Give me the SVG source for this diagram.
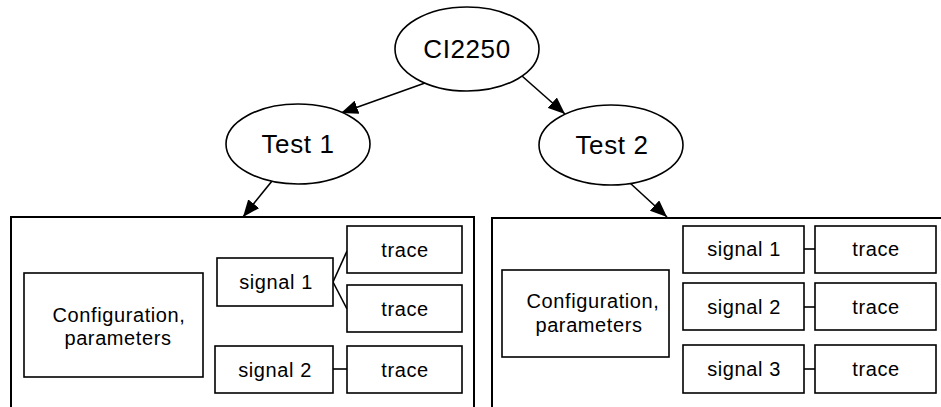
<svg xmlns="http://www.w3.org/2000/svg" width="941" height="407" viewBox="0 0 941 407">
  <style>
    .node { fill: #fff; stroke: #000; stroke-width: 1.6; }
    .frame { fill: #fff; stroke: #000; stroke-width: 2; }
    .edge { fill: none; stroke: #000; stroke-width: 1.6; }
    .big { font-family: "Liberation Sans", Arial, sans-serif; font-size: 26px; fill: #000; text-anchor: middle; letter-spacing: 0.6px; }
    .lbl { font-family: "Liberation Sans", Arial, sans-serif; font-size: 20px; fill: #000; text-anchor: middle; letter-spacing: 0.6px; }
  </style>
  <defs>
    <marker id="arrow" markerUnits="userSpaceOnUse" markerWidth="18" markerHeight="14" refX="17" refY="7" orient="auto">
      <path d="M0,0 L17,7 L0,14 z" fill="#000"/>
    </marker>
  </defs>
  <rect width="941" height="407" fill="#fff"/>

  <!-- test containers (open at bottom / right) -->
  <g id="test1-frame">
    <rect class="frame" x="11" y="217" width="463" height="220"/>
  </g>
  <g id="test2-frame">
    <rect class="frame" x="492" y="218" width="480" height="220"/>
  </g>

  <!-- connectors -->
  <g id="connectors">
    <line class="edge" x1="425" y1="83" x2="341" y2="113" marker-end="url(#arrow)"/>
    <line class="edge" x1="522" y1="76" x2="565" y2="114" marker-end="url(#arrow)"/>
    <line class="edge" x1="272" y1="181" x2="243" y2="217" marker-end="url(#arrow)"/>
    <line class="edge" x1="630" y1="183" x2="667" y2="217" marker-end="url(#arrow)"/>
    <!-- left: signal links -->
    <line class="edge" x1="333" y1="282" x2="347" y2="251"/>
    <line class="edge" x1="333" y1="282" x2="347" y2="309"/>
    <line class="edge" x1="333" y1="369" x2="347" y2="369"/>
    <!-- right: signal links -->
    <line class="edge" x1="804" y1="249" x2="815" y2="249"/>
    <line class="edge" x1="804" y1="307" x2="815" y2="307"/>
    <line class="edge" x1="804" y1="369" x2="815" y2="369"/>
  </g>

  <!-- tree nodes -->
  <g id="ci2250">
    <ellipse class="node" cx="467" cy="49" rx="72" ry="42"/>
    <text class="big" x="467" y="58">CI2250</text>
  </g>
  <g id="test1">
    <ellipse class="node" cx="298" cy="144" rx="72" ry="40"/>
    <text class="big" x="298" y="153">Test 1</text>
  </g>
  <g id="test2">
    <ellipse class="node" cx="611" cy="145" rx="72" ry="40"/>
    <text class="big" x="612" y="154">Test 2</text>
  </g>

  <!-- Test 1 contents -->
  <g id="t1-config">
    <rect class="node" x="24" y="273" width="179" height="104"/>
    <text class="lbl" x="119" y="322">Configuration,</text>
    <text class="lbl" x="118" y="345">parameters</text>
  </g>
  <g id="t1-signal1">
    <rect class="node" x="217" y="258" width="116" height="48"/>
    <text class="lbl" x="276" y="289">signal 1</text>
  </g>
  <g id="t1-trace1">
    <rect class="node" x="347" y="226" width="115" height="47"/>
    <text class="lbl" x="405" y="257">trace</text>
  </g>
  <g id="t1-trace2">
    <rect class="node" x="347" y="285" width="115" height="47"/>
    <text class="lbl" x="405" y="316">trace</text>
  </g>
  <g id="t1-signal2">
    <rect class="node" x="215" y="346" width="118" height="47"/>
    <text class="lbl" x="275" y="377">signal 2</text>
  </g>
  <g id="t1-trace3">
    <rect class="node" x="347" y="346" width="115" height="47"/>
    <text class="lbl" x="405" y="377">trace</text>
  </g>

  <!-- Test 2 contents -->
  <g id="t2-config">
    <rect class="node" x="502" y="270" width="167" height="87"/>
    <text class="lbl" x="593" y="308">Configuration,</text>
    <text class="lbl" x="589" y="332">parameters</text>
  </g>
  <g id="t2-signal1">
    <rect class="node" x="683" y="226" width="121" height="47"/>
    <text class="lbl" x="744" y="256">signal 1</text>
  </g>
  <g id="t2-trace1">
    <rect class="node" x="815" y="226" width="121" height="47"/>
    <text class="lbl" x="876" y="256">trace</text>
  </g>
  <g id="t2-signal2">
    <rect class="node" x="683" y="283" width="121" height="47"/>
    <text class="lbl" x="744" y="314">signal 2</text>
  </g>
  <g id="t2-trace2">
    <rect class="node" x="815" y="283" width="121" height="47"/>
    <text class="lbl" x="876" y="314">trace</text>
  </g>
  <g id="t2-signal3">
    <rect class="node" x="683" y="345" width="121" height="48"/>
    <text class="lbl" x="744" y="376">signal 3</text>
  </g>
  <g id="t2-trace3">
    <rect class="node" x="815" y="345" width="121" height="48"/>
    <text class="lbl" x="876" y="376">trace</text>
  </g>
</svg>
